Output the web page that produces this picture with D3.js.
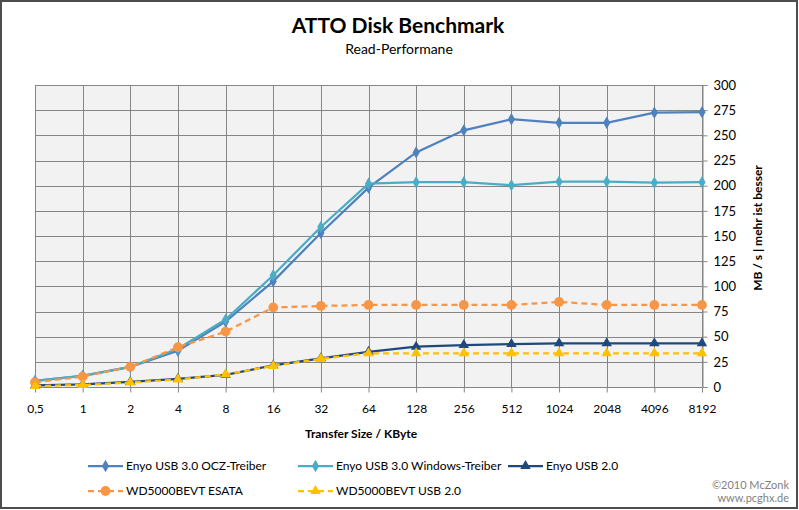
<!DOCTYPE html>
<html lang="en">
	<head>
		<meta charset="utf-8">
		<title>ATTO Disk Benchmark</title>
		<script src="https://d3js.org/d3.v7.min.js"></script>
		<style type="text/css">
		body { margin: 0; background: white; }
		text { font-family: Lato, "Open Sans", sans-serif; fill: black; }
		</style>
	</head>
	<body>
		<script type="text/javascript">

		//Data
		var categories = ["0,5", "1", "2", "4", "8", "16", "32", "64", "128", "256", "512", "1024", "2048", "4096", "8192"];
		var oczTreiber = [6, 11, 20, 36, 65, 105, 153, 198, 233, 255, 266, 262.5, 262.5, 272.5, 273];
		var winTreiber = [6, 11, 20, 38, 67, 111, 159, 202, 203.5, 203.5, 200.5, 204, 204, 203, 203.5];
		var enyoUsb2 = [1.5, 2.5, 5, 8, 12, 21.5, 28.5, 35, 40, 41.7, 42.7, 43.4, 43.4, 43.4, 43.4];
		var wdEsata = [4.7, 10.3, 20, 39.5, 55, 79, 80.5, 81.5, 81.5, 81.5, 81.5, 84.5, 81.5, 81.5, 81.5];
		var wdUsb2 = [1, 2, 4.5, 7.5, 12.5, 21, 28, 33.5, 33.5, 33.5, 33.5, 33.5, 33.5, 33.5, 33.5];
		var yTicks = [0, 25, 50, 75, 100, 125, 150, 175, 200, 225, 250, 275, 300];

		var series = [
			{ name: "Enyo USB 3.0 OCZ-Treiber", values: oczTreiber, color: "#4f81bd", marker: "diamond", dash: null },
			{ name: "Enyo USB 3.0 Windows-Treiber", values: winTreiber, color: "#4bacc6", marker: "diamond", dash: null },
			{ name: "Enyo USB 2.0", values: enyoUsb2, color: "#1f497d", marker: "triangle", dash: null },
			{ name: "WD5000BEVT ESATA", values: wdEsata, color: "#f79646", marker: "circle", dash: "6,4" },
			{ name: "WD5000BEVT USB 2.0", values: wdUsb2, color: "#ffc000", marker: "triangle", dash: "6,4" }
		];

		//Width and height
		var w = 799;
		var h = 510;
		var plot = { left: 35, right: 702, top: 85, bottom: 387 };

		var svg = d3.select("body")
			.append("svg")
			.attr("width", w)
			.attr("height", h);

		//Outer frame
		svg.append("rect")
			.attr("x", 1)
			.attr("y", 1)
			.attr("width", w - 3)
			.attr("height", h - 3)
			.attr("fill", "white")
			.attr("stroke", "#4d4d4d")
			.attr("stroke-width", 2);

		var x = d3.scalePoint()
			.domain(categories)
			.range([plot.left, plot.right]);

		var y = d3.scaleLinear()
			.domain([0, 300])
			.range([plot.bottom, plot.top]);

		//Plot background
		svg.append("rect")
			.attr("x", plot.left)
			.attr("y", plot.top)
			.attr("width", plot.right - plot.left)
			.attr("height", plot.bottom - plot.top)
			.attr("fill", "#f2f2f2");

		//Gridlines
		svg.append("g")
			.selectAll("line")
			.data(yTicks)
			.enter()
			.append("line")
			.attr("x1", plot.left)
			.attr("x2", plot.right)
			.attr("y1", function(d) { return Math.round(y(d)) + 0.5; })
			.attr("y2", function(d) { return Math.round(y(d)) + 0.5; })
			.attr("stroke", "#868686");

		svg.append("g")
			.selectAll("line")
			.data(categories)
			.enter()
			.append("line")
			.attr("x1", function(d) { return Math.round(x(d)) + 0.5; })
			.attr("x2", function(d) { return Math.round(x(d)) + 0.5; })
			.attr("y1", plot.top)
			.attr("y2", plot.bottom)
			.attr("stroke", "#868686");

		//Axes
		var yAxis = svg.append("g")
			.attr("transform", "translate(" + (plot.right + 0.5) + ",0)")
			.call(d3.axisRight(y).tickValues(yTicks).tickSize(5).tickPadding(6));
		yAxis.selectAll("path, line").attr("stroke", "#868686");
		yAxis.selectAll("text").attr("font-size", 13).attr("fill", "black");

		var xAxis = svg.append("g")
			.attr("transform", "translate(0," + (plot.bottom + 0.5) + ")")
			.call(d3.axisBottom(x).tickSize(5).tickPadding(12));
		xAxis.selectAll("path, line").attr("stroke", "#868686");
		xAxis.select(".domain").remove();
		xAxis.selectAll("text").attr("font-size", 12).attr("fill", "black");

		//Lines
		var line = d3.line()
			.x(function(d, i) { return x(categories[i]); })
			.y(function(d) { return y(d); });

		var symbolFor = {
			diamond: d3.symbol().type(d3.symbolDiamond).size(44),
			triangle: d3.symbol().type(d3.symbolTriangle).size(48),
			circle: d3.symbol().type(d3.symbolCircle).size(75)
		};

		// later series sit on top, as in the source
		series.forEach(function(s) {
			var g = svg.append("g");
			g.append("path")
				.attr("d", line(s.values))
				.attr("fill", "none")
				.attr("stroke", s.color)
				.attr("stroke-width", 2.25)
				.attr("stroke-dasharray", s.dash);
			g.selectAll("path.mark")
				.data(s.values)
				.enter()
				.append("path")
				.attr("class", "mark")
				.attr("transform", function(d, i) {
					return "translate(" + x(categories[i]) + "," + y(d) + ")";
				})
				.attr("d", symbolFor[s.marker])
				.attr("fill", s.color);
		});

		//Titles
		svg.append("text")
			.attr("x", 398)
			.attr("y", 33)
			.attr("text-anchor", "middle")
			.attr("font-size", 21)
			.attr("font-weight", "bold")
			.text("ATTO Disk Benchmark");

		svg.append("text")
			.attr("x", 399)
			.attr("y", 54)
			.attr("text-anchor", "middle")
			.attr("font-size", 14)
			.text("Read-Performane");

		svg.append("text")
			.attr("x", 361)
			.attr("y", 438)
			.attr("text-anchor", "middle")
			.attr("font-size", 12)
			.attr("font-weight", "bold")
			.text("Transfer Size / KByte");

		svg.append("text")
			.attr("transform", "translate(762,228) rotate(-90)")
			.attr("text-anchor", "middle")
			.attr("font-size", 12)
			.attr("font-weight", "bold")
			.text("MB / s  |  mehr ist besser");

		//Legend
		var legendPos = [[88, 466], [298, 466], [508, 466], [88, 491], [298, 491]];
		var legend = svg.selectAll("g.legend")
			.data(series)
			.enter()
			.append("g")
			.attr("class", "legend")
			.attr("transform", function(d, i) {
				return "translate(" + legendPos[i][0] + "," + legendPos[i][1] + ")";
			});

		legend.append("line")
			.attr("x1", 0)
			.attr("x2", 35)
			.attr("stroke", function(d) { return d.color; })
			.attr("stroke-width", 2.25)
			.attr("stroke-dasharray", function(d) { return d.dash; });

		legend.append("path")
			.attr("transform", "translate(17.5,0)")
			.attr("d", function(d) { return symbolFor[d.marker](); })
			.attr("fill", function(d) { return d.color; });

		legend.append("text")
			.attr("x", 38)
			.attr("dy", "0.35em")
			.attr("font-size", 12)
			.text(function(d) { return d.name; });

		//Credits
		svg.append("text")
			.attr("x", 789)
			.attr("y", 489)
			.attr("text-anchor", "end")
			.attr("font-size", 11)
			.style("fill", "#7f7f7f")
			.text("©2010 McZonk");

		svg.append("text")
			.attr("x", 789)
			.attr("y", 502)
			.attr("text-anchor", "end")
			.attr("font-size", 11)
			.style("fill", "#7f7f7f")
			.text("www.pcghx.de");

		</script>
	</body>
</html>
